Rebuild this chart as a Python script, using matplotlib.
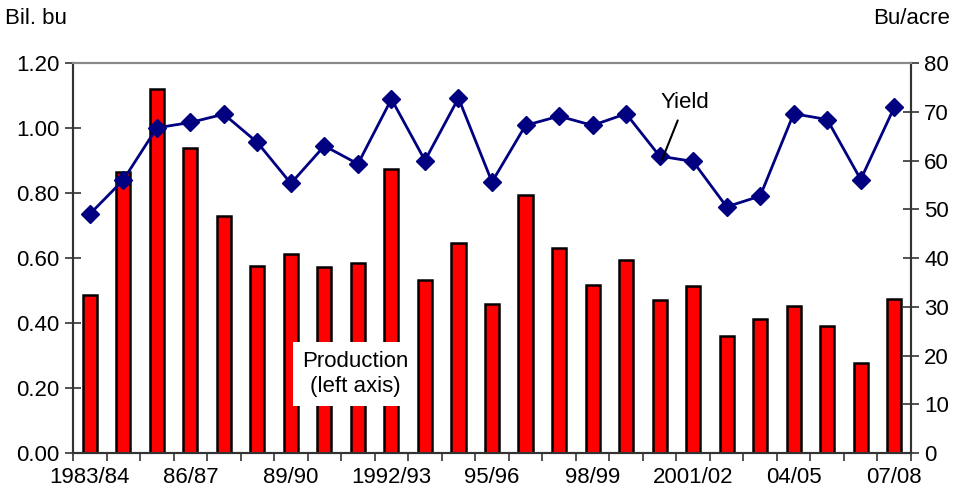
import numpy as np
import matplotlib.pyplot as plt

plt.rcParams['font.family'] = ['Liberation Sans', 'DejaVu Sans']

years = ['1983/84', '84/85', '85/86', '86/87', '87/88', '88/89', '89/90', '90/91',
         '91/92', '1992/93', '93/94', '94/95', '95/96', '96/97', '97/98', '98/99',
         '99/00', '2000/01', '2001/02', '02/03', '03/04', '04/05', '05/06', '06/07', '07/08']
production = [0.486, 0.865, 1.120, 0.938, 0.729, 0.575, 0.612, 0.572, 0.585, 0.874,
              0.532, 0.646, 0.458, 0.794, 0.631, 0.517, 0.594, 0.471, 0.514, 0.360,
              0.412, 0.452, 0.391, 0.277, 0.474]
yield_bu = [49.0, 56.0, 66.7, 67.8, 69.5, 63.7, 55.3, 63.0, 59.3, 72.6,
            60.0, 72.8, 55.6, 67.2, 69.1, 67.2, 69.6, 60.9, 59.8, 50.5,
            52.7, 69.6, 68.4, 56.1, 70.9]
shown_labels = ['1983/84', '86/87', '89/90', '1992/93', '95/96', '98/99', '2001/02', '04/05', '07/08']

fs = 16
x = np.arange(len(years))

fig = plt.figure(figsize=(9.55, 5.01), dpi=100)
ax = fig.add_axes([73 / 955, 1 - 453 / 501, (911 - 73) / 955, (453 - 63) / 501])
ax2 = ax.twinx()

ax.bar(x, production, width=0.42, color='#ff0000', edgecolor='black', linewidth=1.8, zorder=2)
ax2.plot(x, yield_bu, color='#000080', linewidth=2, marker='D', markersize=9, zorder=3)

ax.set_xlim(-0.5, len(years) - 0.5)
ax.set_ylim(0, 1.2)
ax2.set_ylim(0, 80)
ax.set_yticks(np.arange(0, 1.21, 0.2))
ax.set_yticklabels([f'{v:.2f}' for v in np.arange(0, 1.21, 0.2)])
ax2.set_yticks(np.arange(0, 81, 10))

# category boundaries as ticks, labels at selected centres
ax.set_xticks(np.arange(-0.5, len(years), 1))
ax.set_xticklabels([])
ax.set_xticks([years.index(s) for s in shown_labels], minor=True)
ax.set_xticklabels(shown_labels, minor=True)
ax.tick_params(axis='x', which='major', direction='out', length=6, width=1.2, color='#333333')
ax.tick_params(axis='x', which='minor', length=0, labelsize=fs, pad=10)
ax.tick_params(axis='y', direction='inout', length=11, width=1.2, labelsize=fs, color='#333333', pad=4)
ax2.tick_params(axis='y', direction='inout', length=11, width=1.2, labelsize=fs, color='#333333', pad=4)

for a in (ax, ax2):
    for side in ('left', 'right', 'bottom'):
        a.spines[side].set_color('#333333')
        a.spines[side].set_linewidth(1.5)
    a.spines['top'].set_color('#888888')
    a.spines['top'].set_linewidth(1.5)

fig.text(5 / 955, 1 - 18 / 501, 'Bil. bu', fontsize=fs, ha='left', va='center')
fig.text(950 / 955, 1 - 18 / 501, 'Bu/acre', fontsize=fs, ha='right', va='center')

ax.text(7.91, 0.243, 'Production\n(left axis)', fontsize=fs, ha='center', va='center',
        linespacing=1.3, zorder=5,
        bbox=dict(boxstyle='square,pad=0.4', facecolor='white', edgecolor='none'))
ax2.annotate('Yield', xy=(17.07, 60.1), xytext=(17.76, 72), fontsize=fs,
             ha='center', va='center', zorder=5,
             arrowprops=dict(arrowstyle='-', color='black', linewidth=1.5,
                             shrinkA=4, shrinkB=0))

fig.savefig('out.png', dpi=100)
